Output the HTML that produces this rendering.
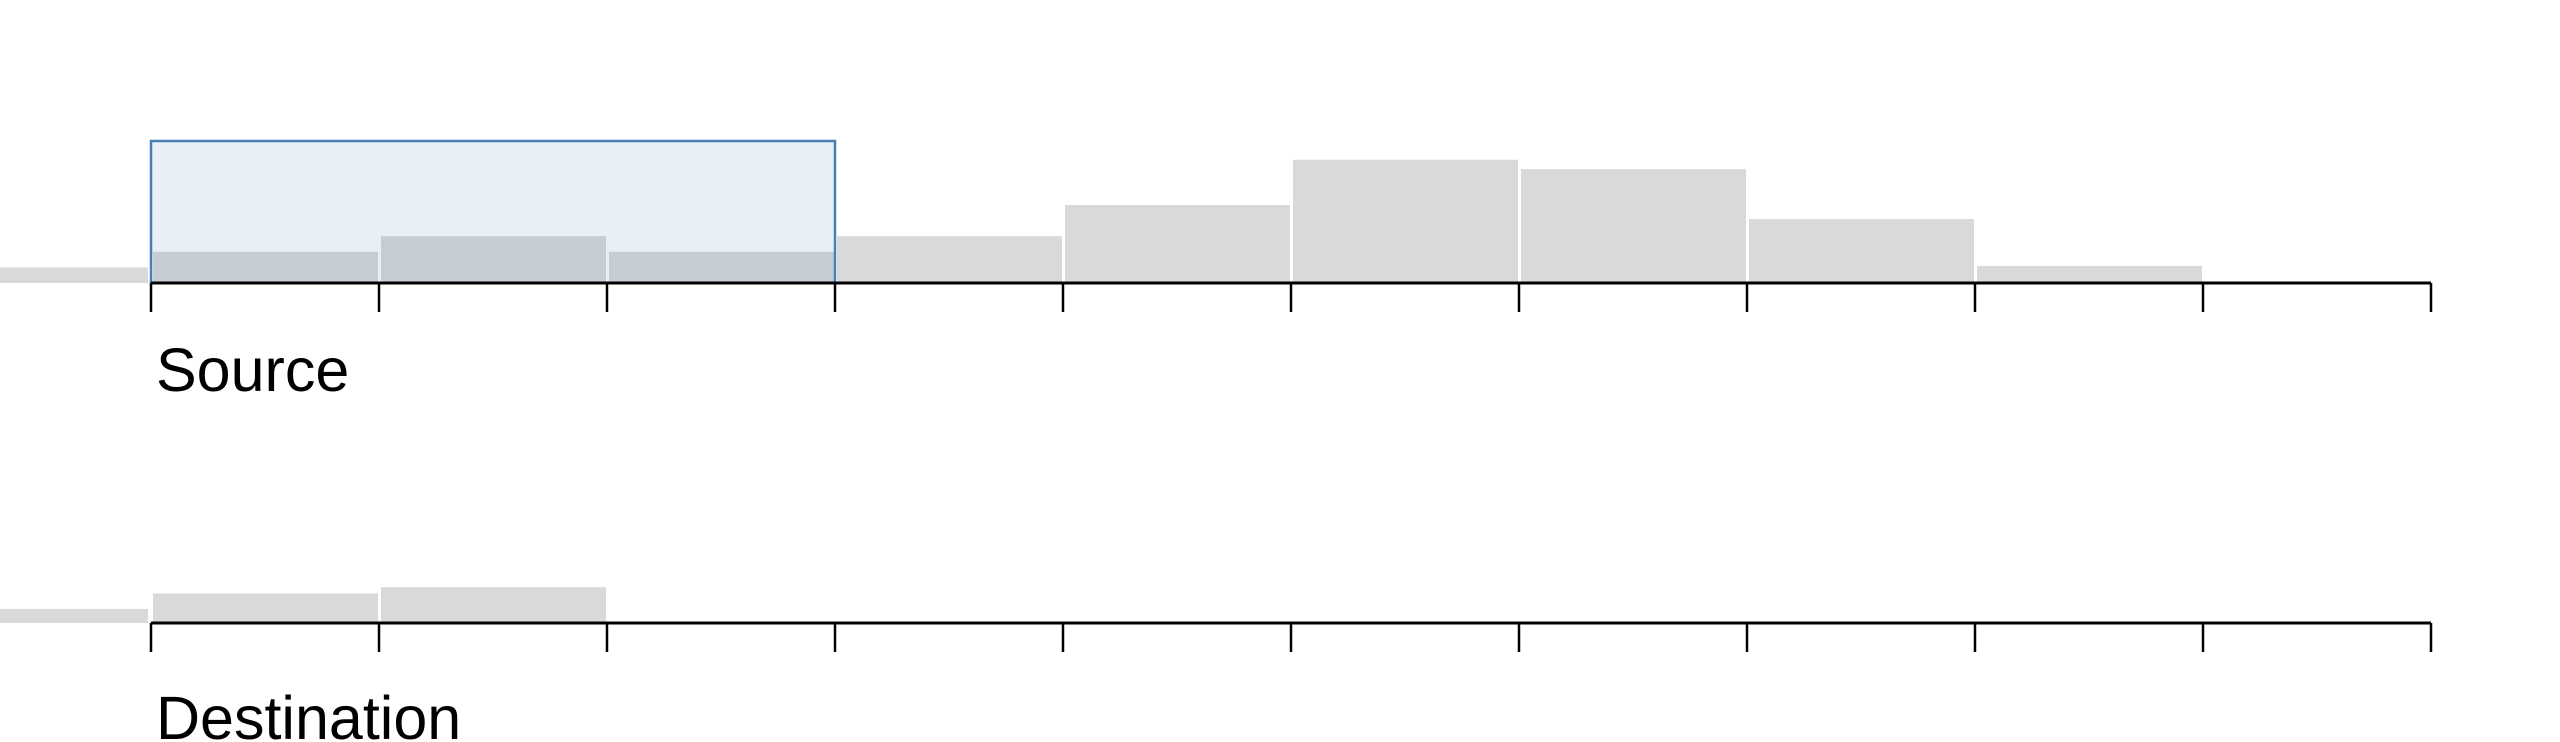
<!DOCTYPE html>
<html><head><meta charset="utf-8">
<style>
html,body{margin:0;padding:0;background:#fff;}
svg{display:block;}
text{font-family:"Liberation Sans",sans-serif;fill:#000;}
</style></head>
<body>
<svg id="chart" width="2560" height="742" viewBox="0 0 2560 742" xmlns="http://www.w3.org/2000/svg">
  <g id="src"></g>
  <g id="dst"></g>
  <text x="156" y="391" font-size="61">Source</text>
  <text x="156" y="739" font-size="61">Destination</text>
</svg>
<script>
const binCount = 10;
const sourceStub = 10;
const sourceValues = [20, 30, 20, 30, 50, 79, 73, 41, 11, 0];
const destStub = 9;
const destValues = [19, 23, 0, 0, 0, 0, 0, 0, 0, 0];
const brushStartBin = 0;
const brushEndBin = 3;

const NS = "http://www.w3.org/2000/svg";
const x0 = 151, x1 = 2431;
const unitPx = 1.56;
function xScale(i){ return x0 + (x1 - x0) * i / binCount; }
function yScale(v, base){ return base - v * unitPx; }

function mk(tag, attrs, parent){
  const e = document.createElementNS(NS, tag);
  for (const k in attrs) e.setAttribute(k, attrs[k]);
  parent.appendChild(e);
  return e;
}

function drawHist(g, stub, values, base, withBrush){
  if (withBrush){
    const br = mk('rect', {x: xScale(brushStartBin), y: 141, width: xScale(brushEndBin) - xScale(brushStartBin), height: base - 141, fill: '#e8eff7', stroke: 'none'}, g);
    
    
  }
  const sy = yScale(stub, base);
  const s = mk('rect', {x: 0, y: sy, width: xScale(0) - 3, height: base - sy, fill: '#d9d9d9'}, g);
  
  
  values.forEach((v, i) => {
    if (v <= 0) return;
    const y = yScale(v, base);
    const inBrush = withBrush && i >= brushStartBin && i < brushEndBin;
    const r = mk('rect', {x: xScale(i) + 2, y: y, width: xScale(i + 1) - xScale(i) - 3, height: base - y, fill: inBrush ? '#c5ccd3' : '#d9d9d9'}, g);
    
    
  });
  if (withBrush){
    const bo = mk('rect', {x: xScale(brushStartBin), y: 141, width: xScale(brushEndBin) - xScale(brushStartBin), height: base - 141, fill: 'none', stroke: '#4a7fb5', 'stroke-width': 2.5}, g);
    
    
  }
  const ax = mk('line', {x1: x0, x2: x1, y1: base, y2: base, stroke: '#000', 'stroke-width': 3}, g);
  
  
  for (let i = 0; i <= binCount; i++){
    const t = mk('line', {x1: xScale(i), x2: xScale(i), y1: base, y2: base + 29, stroke: '#000', 'stroke-width': 2.5}, g);
    
    
  }
}
drawHist(document.getElementById('src'), sourceStub, sourceValues, 283, true);
drawHist(document.getElementById('dst'), destStub, destValues, 623, false);
</script>
</body></html>
